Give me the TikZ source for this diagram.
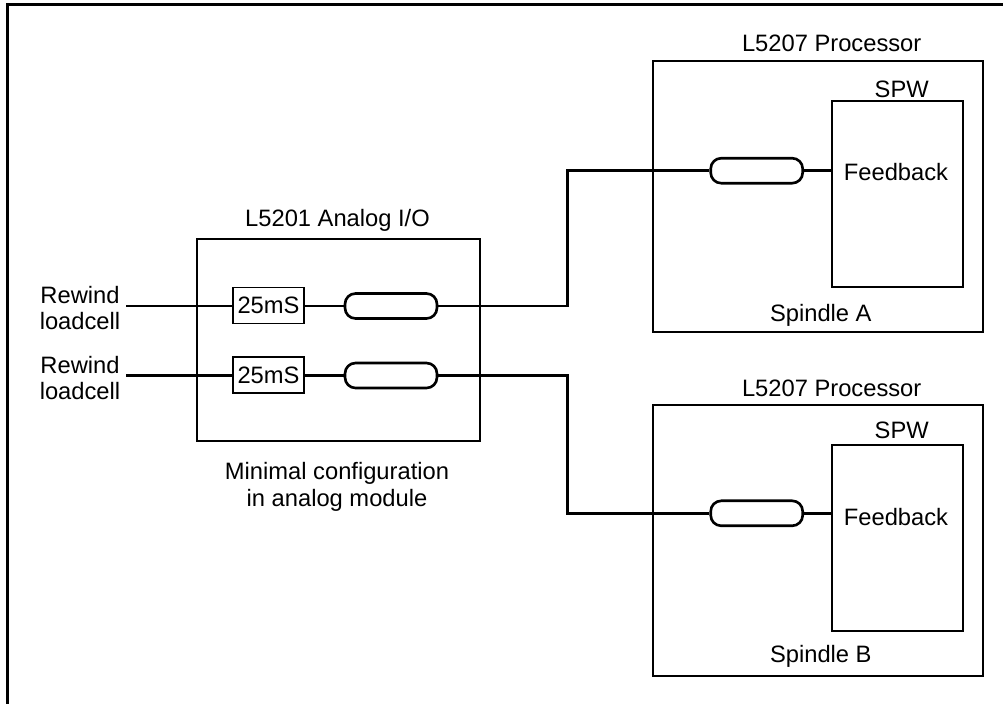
\documentclass[tikz,border=0pt]{standalone}
\usepackage{fontspec}
\setmainfont{Liberation Sans}
\begin{document}
\begin{tikzpicture}[x=0.02cm, y=-0.02cm, font=\fontsize{13.5}{15.1}\selectfont]
        \tikzstyle{module}=[draw, line width=1.1pt, inner sep=0pt]
        \tikzstyle{filter}=[draw, line width=1.1pt, inner sep=0pt, minimum width=1.42cm, minimum height=0.72cm]
        \tikzstyle{link}=[draw, line width=1.5pt, rounded corners=6pt, inner sep=0pt, minimum width=1.84cm, minimum height=0.5cm]
        \tikzstyle{wire}=[line width=1.5pt]
        \tikzstyle{title}=[anchor=base, inner sep=0pt]

        \useasboundingbox (0,0) rectangle (1003,704);
        \draw[line width=1.4pt] (1003,4.5) -- (7.5,4.5) -- (7.5,704);

        \node[module, minimum width=5.66cm, minimum height=4.03cm] (aio) at (338.5,340) {};
        \node[title] (aiot) at (337.5,226.7) {L5201 Analog I/O};
        \node[align=center] (cfg) at (337,487) {Minimal configuration\\in analog module};

        \node[align=center] (r1) at (80,308) {Rewind\\loadcell};
        \node[align=center] (r2) at (80,378) {Rewind\\loadcell};
        \node[filter] (f1) at (268.5,305.5) {25mS};
        \node[filter] (f2) at (268.5,375) {25mS};
        \node[link] (c1) at (391,306) {};
        \node[link] (c2) at (391,375.5) {};

        \node[module, minimum width=6.6cm, minimum height=5.42cm] (pa) at (818.3,196.5) {};
        \node[title] (pat) at (831.7,51.5) {L5207 Processor};
        \node[module, minimum width=2.62cm, minimum height=3.72cm] (spwa) at (897.2,193.7) {};
        \node[title] (spwat) at (901.7,97.7) {SPW};
        \node[title] (fba) at (896,180) {Feedback};
        \node[title] (spa) at (820.8,321.7) {Spindle A};
        \node[link] (pc1) at (756.7,170.7) {};

        \node[module, minimum width=6.6cm, minimum height=5.42cm] (pb) at (818.3,540.5) {};
        \node[title] (pbt) at (831.7,396.7) {L5207 Processor};
        \node[module, minimum width=2.62cm, minimum height=3.72cm] (spwb) at (897.2,538) {};
        \node[title] (spwbt) at (901.7,438.3) {SPW};
        \node[title] (fbb) at (896,525) {Feedback};
        \node[title] (spb) at (820.8,662.7) {Spindle B};
        \node[link] (pc2) at (756.7,513.3) {};

        \coordinate (ja) at (567.3,306);
        \coordinate (jb) at (567.3,375.5);

        \draw[wire] (r1.east |- c1.west) -- (f1.west |- c1.west);
        \draw[wire] (r2.east |- c2.west) -- (f2.west |- c2.west);
        \draw[wire] (f1.east |- c1.west) -- (c1.west);
        \draw[wire] (f2.east |- c2.west) -- (c2.west);
        \draw[wire] (c1.east) -- (ja) |- (pc1.west);
        \draw[wire] (c2.east) -- (jb) |- (pc2.west);
        \draw[wire] (pc1.east) -- (pc1.east -| spwa.west);
        \draw[wire] (pc2.east) -- (pc2.east -| spwb.west);
    \end{tikzpicture}
\end{document}
